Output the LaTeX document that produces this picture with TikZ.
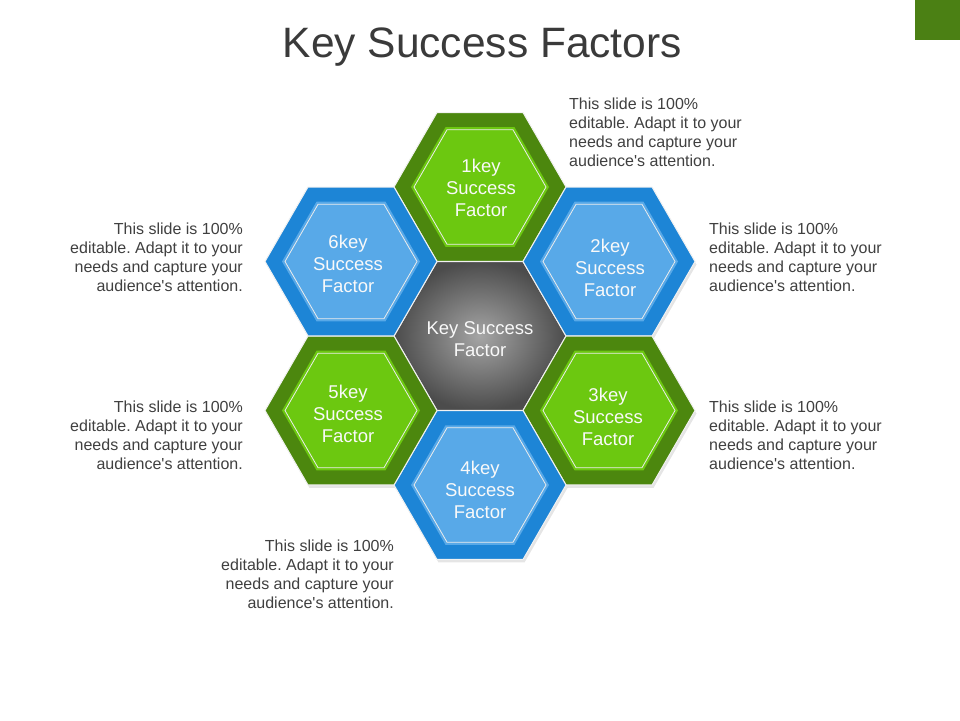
\documentclass[tikz,border=0pt]{standalone}
\usepackage{fontspec}
\setmainfont{Liberation Sans}
\usetikzlibrary{shapes.geometric}
\definecolor{dkgreen}{RGB}{76,135,14}
\definecolor{ltgreen}{RGB}{108,200,16}
\definecolor{dkblue}{RGB}{29,133,214}
\definecolor{ltblue}{RGB}{88,169,232}
\definecolor{txtgray}{RGB}{64,64,64}
\definecolor{titlegray}{RGB}{58,58,58}
\definecolor{sqgreen}{RGB}{75,128,20}
\definecolor{cinner}{RGB}{165,165,165}
\definecolor{couter}{RGB}{76,76,76}
\frenchspacing
\begin{document}
\begin{tikzpicture}[x=1pt,y=-1pt,
 hexbase/.style={regular polygon, regular polygon sides=6, inner sep=0pt, outer sep=0pt},
 outerhex/.style={hexbase, minimum size=172pt, draw=white!90!gray, line width=1pt},
 shadowhex/.style={hexbase, minimum size=172pt, fill=black, opacity=0.10},
 innerhex/.style={hexbase, minimum size=138pt},
 innerline/.style={hexbase, minimum size=132pt, draw=white!85!gray, line width=0.8pt},
 lbl/.style={align=center, text=white!95!gray, font=\fontsize{18.5}{22}\selectfont, inner sep=0pt},
 bodyl/.style={font=\fontsize{16}{19}\selectfont, text=txtgray, inner sep=0pt, align=left, anchor=north west},
 bodyr/.style={font=\fontsize{16}{19}\selectfont, text=txtgray, inner sep=0pt, align=right, anchor=north east},
]
\fill[white] (0,0) rectangle (960,720);
\useasboundingbox (0,0) rectangle (960,720);
\fill[sqgreen] (915,0) rectangle (960,40);
\node[font=\fontsize{42.5}{50}\selectfont, text=titlegray, anchor=base west, inner sep=0pt] (title) at (282.5,57) {Key Success Factors};
% shadows
\foreach \x/\y in {480/187, 609/261.5, 609/410.5, 480/485, 351/410.5, 351/261.5}{
  \node[shadowhex] at (\x+1.5,\y+3) {};
}
% outer hexes
\node[outerhex, inner color=cinner, outer color=couter] (h0) at (480,336) {};
\node[outerhex, fill=dkgreen] (h1) at (480,187) {};
\node[outerhex, fill=dkblue] (h2) at (609,261.5) {};
\node[outerhex, fill=dkgreen] (h3) at (609,410.5) {};
\node[outerhex, fill=dkblue] (h4) at (480,485) {};
\node[outerhex, fill=dkgreen] (h5) at (351,410.5) {};
\node[outerhex, fill=dkblue] (h6) at (351,261.5) {};
% inner hexes
\node[innerhex, fill=ltgreen] (i1) at (h1) {};
\node[innerhex, fill=ltblue] (i2) at (h2) {};
\node[innerhex, fill=ltgreen] (i3) at (h3) {};
\node[innerhex, fill=ltblue] (i4) at (h4) {};
\node[innerhex, fill=ltgreen] (i5) at (h5) {};
\node[innerhex, fill=ltblue] (i6) at (h6) {};
\foreach \n in {1,...,6}{ \node[innerline] (w\n) at (h\n) {}; }
% labels
\node[lbl] (l0) at (480,339) {Key Success\\Factor};
\node[lbl] (l1) at (481,188) {1key\\Success\\Factor};
\node[lbl] (l2) at (610,268) {2key\\Success\\Factor};
\node[lbl] (l3) at (608,417) {3key\\Success\\Factor};
\node[lbl] (l4) at (480,490) {4key\\Success\\Factor};
\node[lbl] (l5) at (348,414) {5key\\Success\\Factor};
\node[lbl] (l6) at (348,264) {6key\\Success\\Factor};
% body texts
\node[bodyl] (t1) at (569,97.4) {This slide is 100\%\\editable. Adapt it to your\\needs and capture your\\audience\textquotesingle s attention.};
\node[bodyl] (t2) at (709,222.4) {This slide is 100\%\\editable. Adapt it to your\\needs and capture your\\audience\textquotesingle s attention.};
\node[bodyl] (t3) at (709,400.4) {This slide is 100\%\\editable. Adapt it to your\\needs and capture your\\audience\textquotesingle s attention.};
\node[bodyr] (t6) at (243,222.4) {This slide is 100\%\\editable. Adapt it to your\\needs and capture your\\audience\textquotesingle s attention.};
\node[bodyr] (t5) at (243,400.4) {This slide is 100\%\\editable. Adapt it to your\\needs and capture your\\audience\textquotesingle s attention.};
\node[bodyr] (t4) at (394,539.4) {This slide is 100\%\\editable. Adapt it to your\\needs and capture your\\audience\textquotesingle s attention.};
\end{tikzpicture}
\end{document}
